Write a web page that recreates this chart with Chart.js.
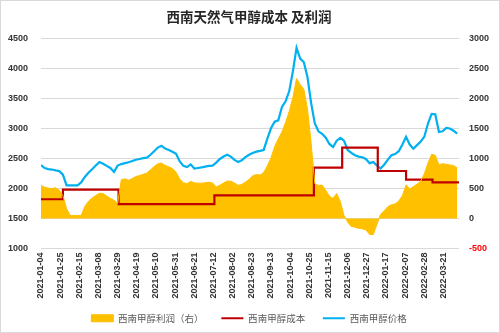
<!DOCTYPE html>
<html>
<head>
<meta charset="utf-8">
<script src="https://cdn.jsdelivr.net/npm/chart.js@4.4.1/dist/chart.umd.min.js"></script>
<style>
  html, body { margin: 0; padding: 0; background: #fff; }
  canvas { display: block; }
</style>
</head>
<body>
<canvas id="methanolChart" width="500" height="333"></canvas>
<script>
// sample dates (every 4 days)
const sampleDates = [
  '2021-01-04','2021-01-08','2021-01-12','2021-01-16','2021-01-20','2021-01-24','2021-01-28',
  '2021-02-01','2021-02-05','2021-02-09','2021-02-13','2021-02-17','2021-02-21','2021-02-25',
  '2021-03-01','2021-03-05','2021-03-09','2021-03-13','2021-03-17','2021-03-21','2021-03-25','2021-03-29',
  '2021-04-02','2021-04-06','2021-04-10','2021-04-14','2021-04-18','2021-04-22','2021-04-26','2021-04-30',
  '2021-05-04','2021-05-08','2021-05-12','2021-05-16','2021-05-20','2021-05-24','2021-05-28',
  '2021-06-01','2021-06-05','2021-06-09','2021-06-13','2021-06-17','2021-06-21','2021-06-25','2021-06-29',
  '2021-07-03','2021-07-07','2021-07-11','2021-07-15','2021-07-19','2021-07-23','2021-07-27','2021-07-31',
  '2021-08-04','2021-08-08','2021-08-12','2021-08-16','2021-08-20','2021-08-24','2021-08-28',
  '2021-09-01','2021-09-05','2021-09-09','2021-09-13','2021-09-17','2021-09-21','2021-09-25','2021-09-29',
  '2021-10-03','2021-10-07','2021-10-11','2021-10-15','2021-10-19','2021-10-23','2021-10-27','2021-10-31',
  '2021-11-04','2021-11-08','2021-11-12','2021-11-16','2021-11-20','2021-11-24','2021-11-28',
  '2021-12-02','2021-12-06','2021-12-10','2021-12-14','2021-12-18','2021-12-22','2021-12-26','2021-12-30',
  '2022-01-03','2022-01-07','2022-01-11','2022-01-15','2022-01-19','2022-01-23','2022-01-27','2022-01-31',
  '2022-02-04','2022-02-08','2022-02-12','2022-02-16','2022-02-20','2022-02-24','2022-02-28',
  '2022-03-04','2022-03-08','2022-03-12','2022-03-16','2022-03-20','2022-03-24','2022-03-28',
  '2022-04-01','2022-04-05'
];

// 西南甲醇价格 (left axis)
const price = [
  2390,2340,2322,2314,2300,2288,2230,
  2050,2050,2050,2050,2100,2190,2260,
  2320,2380,2438,2410,2375,2340,2275,2380,
  2405,2420,2435,2455,2478,2490,2505,2512,
  2560,2620,2680,2710,2662,2640,2610,
  2575,2450,2375,2355,2400,2330,2340,2350,
  2362,2375,2380,2430,2490,2530,2560,2530,
  2475,2440,2467,2520,2560,2590,2612,
  2625,2640,2830,3000,3110,3133,3355,3450,
  3620,3950,4340,4160,4100,3850,3420,3080,
  2950,2910,2845,2740,2690,2795,2840,
  2795,2640,2590,2552,2530,2518,2490,2420,
  2438,2383,2330,2395,2480,2552,2572,2620,
  2730,2860,2730,2660,2720,2780,2860,
  3080,3240,3233,2938,2950,3008,2997,
  2960,2912
];

// 西南甲醇利润 (right axis)
const profit = [
  550,520,505,497,510,470,380,
  165,50,50,50,50,200,285,
  340,380,420,415,375,335,303,250,
  645,660,637,665,698,715,735,755,
  810,865,910,922,883,862,830,
  770,655,595,578,618,593,588,588,
  595,603,590,525,553,590,623,620,
  590,553,565,605,650,712,730,
  722,765,875,1010,1195,1325,1440,1600,
  1785,2015,2330,2230,2150,1820,1250,578,
  550,555,470,370,335,415,280,
  50,-60,-135,-145,-165,-172,-190,-265,
  -270,-100,65,130,195,230,242,290,
  380,560,490,530,570,620,745,
  920,1070,1050,895,910,902,890,
  883,840
];

// 西南甲醇成本: dates where the cost level changes
const costDates  = ['2021-01-04','2021-01-28','2021-03-30','2021-07-13','2021-10-30','2021-11-30','2022-01-08','2022-02-08','2022-03-09','2022-04-07'];
const costValues = [1820, 1980, 1740, 1885, 2345, 2680, 2290, 2145, 2100, 2100];

const tickLabels = [
  '2021-01-04','2021-01-25','2021-02-15','2021-03-08','2021-03-29','2021-04-19','2021-05-10',
  '2021-05-31','2021-06-21','2021-07-12','2021-08-02','2021-08-23','2021-09-13','2021-10-04',
  '2021-10-25','2021-11-15','2021-12-06','2021-12-27','2022-01-17','2022-02-07','2022-02-28','2022-03-21'
];

const START = Date.UTC(2021, 0, 4);
function dayOf(s) {
  const p = s.split('-').map(Number);
  return Math.round((Date.UTC(p[0], p[1] - 1, p[2]) - START) / 86400000);
}

const YELLOW = '#FFC000';
const RED = '#C00000';
const BLUE = '#00B0F0';
const tickFont = { family: 'Liberation Sans', size: 9, weight: 'bold' };

const frame = {
  id: 'frame',
  afterDraw(chart) {
    const ctx = chart.ctx;
    ctx.save();
    ctx.strokeStyle = '#D9D9D9';
    ctx.lineWidth = 1;
    ctx.strokeRect(0.5, 0.5, chart.width - 1, chart.height - 1);
    ctx.restore();
  }
};

new Chart(document.getElementById('methanolChart'), {
  type: 'line',
  data: {
    datasets: [
      {
        label: '西南甲醇利润（右）',
        data: sampleDates.map((d, i) => ({ x: dayOf(d), y: profit[i] })),
        yAxisID: 'y1',
        borderColor: YELLOW,
        backgroundColor: YELLOW,
        borderWidth: 1,
        fill: 'origin',
        pointStyle: 'rect',
        pointRadius: 0,
        tension: 0
      },
      {
        label: '西南甲醇成本',
        data: costDates.map((d, i) => ({ x: dayOf(d), y: costValues[i] })),
        yAxisID: 'y',
        borderColor: RED,
        backgroundColor: RED,
        borderWidth: 2.2,
        stepped: true,
        pointStyle: 'line',
        pointRadius: 0,
        fill: false
      },
      {
        label: '西南甲醇价格',
        data: sampleDates.map((d, i) => ({ x: dayOf(d), y: price[i] })),
        yAxisID: 'y',
        borderColor: BLUE,
        backgroundColor: BLUE,
        borderWidth: 2.2,
        pointStyle: 'line',
        pointRadius: 0,
        tension: 0,
        fill: false
      }
    ]
  },
  options: {
    responsive: false,
    animation: false,
    devicePixelRatio: 1,
    layout: { padding: { top: 9, left: 6, right: 8, bottom: 0 } },
    plugins: {
      filler: { drawTime: 'beforeDatasetsDraw' },
      tooltip: { enabled: false },
      title: {
        display: true,
        text: '西南天然气甲醇成本 及利润',
        color: '#262626',
        font: { family: 'Noto Sans CJK SC', size: 13.5, weight: 'bold' },
        padding: { top: 0, bottom: 13 }
      },
      legend: {
        position: 'bottom',
        labels: {
          usePointStyle: true,
          pointStyleWidth: 22,
          boxHeight: 7,
          padding: 13,
          color: '#595959',
          font: { family: 'Noto Sans CJK SC', size: 9.5 },
          generateLabels: chart => Chart.defaults.plugins.legend.labels.generateLabels(chart)
            .map((item, i) => Object.assign(item, { text: i < 2 ? item.text + '\u2002' : item.text }))
        }
      }
    },
    scales: {
      x: {
        type: 'linear',
        min: 0,
        max: 458,
        afterBuildTicks: scale => { scale.ticks = tickLabels.map(d => ({ value: dayOf(d) })); },
        afterFit: scale => { scale.height = 52; },
        ticks: {
          autoSkip: false,
          minRotation: 90,
          maxRotation: 90,
          padding: 4,
          color: '#333',
          font: tickFont,
          callback: (value, index) => tickLabels[index]
        },
        grid: { display: false, drawTicks: false },
        border: { display: false }
      },
      y: {
        position: 'left',
        min: 1000,
        max: 4500,
        afterFit: scale => { scale.width = 35; },
        ticks: { stepSize: 500, padding: 13, color: '#333', font: tickFont, callback: v => String(v) },
        grid: { color: '#D9D9D9', drawTicks: false },
        border: { display: false }
      },
      y1: {
        position: 'right',
        min: -500,
        max: 3000,
        afterFit: scale => { scale.width = 33; },
        ticks: {
          stepSize: 500,
          padding: 10,
          font: tickFont,
          callback: v => String(v),
          color: ctx => (ctx.tick && ctx.tick.value < 0 ? '#FF0000' : '#333')
        },
        grid: { drawOnChartArea: false, drawTicks: false },
        border: { display: false }
      }
    }
  },
  plugins: [frame]
});
</script>
</body>
</html>
